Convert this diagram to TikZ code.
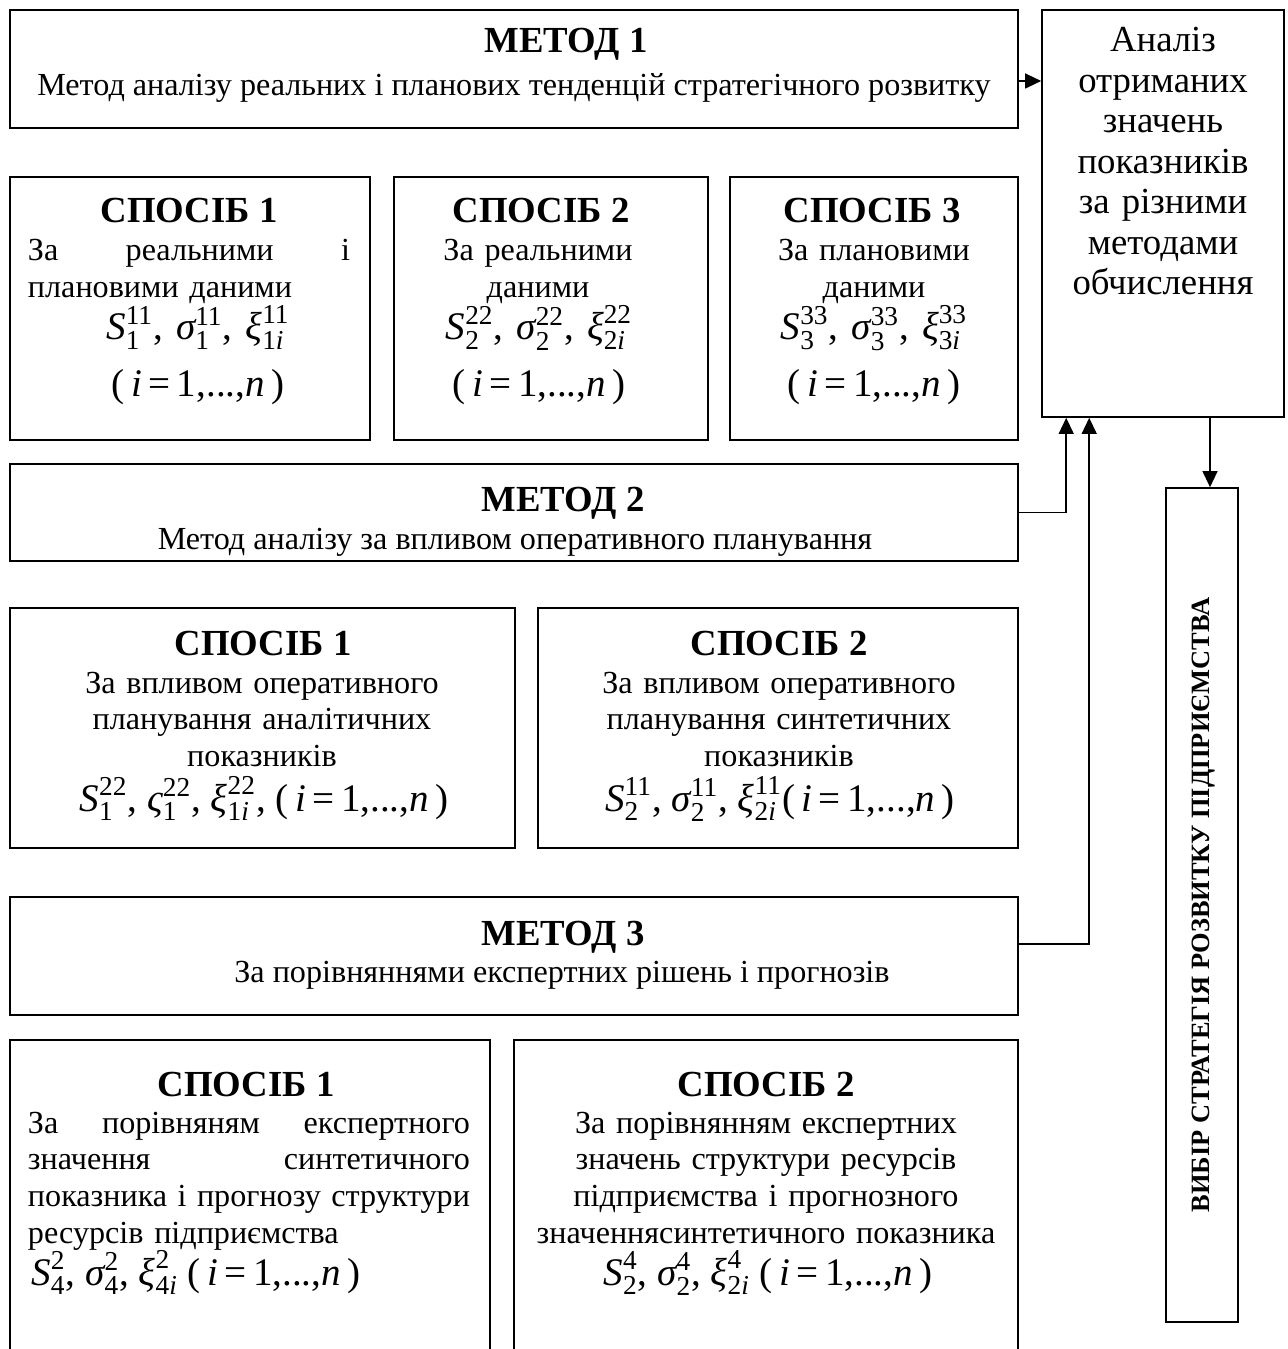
\documentclass[tikz,border=0pt]{standalone}
\usepackage{amsmath}
\usepackage{fontspec}
\setmainfont{Liberation Serif}
\usetikzlibrary{arrows.meta}

\def\pxu{0.0153cm}
\newcommand{\vr}[1]{\text{\itshape #1}}
\newcommand{\idx}[3]{$\vr{#1}_{\text{#2}}^{\text{#3}}$}
\newcommand{\rng}{(\,\textit{i}\,=\,1,...,\textit{n}\,)}

\begin{document}
\begin{tikzpicture}[
    x=\pxu,
    y=-\pxu,
    box/.style={
        draw,
        line width=0.7pt,
        inner sep=0pt
    },
    head/.style={
        anchor=base,
        inner sep=0pt,
        font=\fontsize{16}{18}\selectfont\bfseries
    },
    txt/.style={
        anchor=base,
        inner sep=0pt,
        align=center,
        font=\fontsize{14}{16}\selectfont
    },
    just/.style={
        txt,
        align=left
    },
    frm/.style={
        anchor=base,
        inner sep=0pt,
        align=center,
        font=\fontsize{17}{24.8}\selectfont
    },
    arr/.style={
        -{Triangle[length=7pt,width=6.5pt]},
        line width=0.7pt
    }
]
    \useasboundingbox (0,0) rectangle (1287,1349);
    \clip (0,0) rectangle (1287,1349);

    \node[box, minimum width=1008*\pxu, minimum height=118*\pxu] (m1) at (514,69) {};
    \node[head] (m1h) at (566,53) {МЕТОД 1};
    \node[txt] (m1t) at (514,96)
        {Метод аналізу реальних і планових тенденцій стратегічного розвитку};

    \node[box, minimum width=242*\pxu, minimum height=407*\pxu] (an) at (1163,213.5) {};
    \node[txt, font=\fontsize{16}{17.6}\selectfont, text width=236*\pxu] (ant) at (1163,52)
        {Аналіз\\ отриманих\\ значень\\ показників\\ за різними\\ методами\\ обчислення};

    \node[box, minimum width=360*\pxu, minimum height=263*\pxu] (s11) at (190,308.5) {};
    \node[head] (s11h) at (189,223) {СПОСІБ 1};
    \node[just, text width=322*\pxu] (s11t) at (189,261)
        {За\hfill реальними\hfill і\\ плановими даними};
    \node[frm, text width=330*\pxu] (s11f) at (198,340)
        {\idx{S}{1}{11}, \idx{σ}{1}{11}, \idx{ξ}{1\textit{i}}{11}\\ \rng};

    \node[box, minimum width=314*\pxu, minimum height=263*\pxu] (s12) at (551,308.5) {};
    \node[head] (s12h) at (541,223) {СПОСІБ 2};
    \node[txt, text width=290*\pxu] (s12t) at (538,261)
        {За реальними\\ даними};
    \node[frm, text width=300*\pxu] (s12f) at (539,340)
        {\idx{S}{2}{22}, \idx{σ}{2}{22}, \idx{ξ}{2\textit{i}}{22}\\ \rng};

    \node[box, minimum width=288*\pxu, minimum height=263*\pxu] (s13) at (874,308.5) {};
    \node[head] (s13h) at (872,223) {СПОСІБ 3};
    \node[txt, text width=270*\pxu] (s13t) at (874,261)
        {За плановими\\ даними};
    \node[frm, text width=280*\pxu] (s13f) at (874,340)
        {\idx{S}{3}{33}, \idx{σ}{3}{33}, \idx{ξ}{3\textit{i}}{33}\\ \rng};

    \node[box, minimum width=1008*\pxu, minimum height=97*\pxu] (m2) at (514,512.5) {};
    \node[head] (m2h) at (563,512) {МЕТОД 2};
    \node[txt] (m2t) at (515,549)
        {Метод аналізу за впливом оперативного планування};

    \node[box, minimum width=505*\pxu, minimum height=240*\pxu] (s21) at (262.5,728) {};
    \node[head] (s21h) at (263,655) {СПОСІБ 1};
    \node[txt, text width=480*\pxu] (s21t) at (262,693)
        {За впливом оперативного\\ планування аналітичних\\ показників};
    \node[frm] (s21f) at (264,811)
        {\idx{S}{1}{22}, \idx{ς}{1}{22}, \idx{ξ}{1\textit{i}}{22}, \rng};

    \node[box, minimum width=480*\pxu, minimum height=240*\pxu] (s22) at (778,728) {};
    \node[head] (s22h) at (779,655) {СПОСІБ 2};
    \node[txt, text width=460*\pxu] (s22t) at (779,693)
        {За впливом оперативного\\ планування синтетичних\\ показників};
    \node[frm] (s22f) at (780,811)
        {\idx{S}{2}{11}, \idx{σ}{2}{11}, \idx{ξ}{2\textit{i}}{11}\rng};

    \node[box, minimum width=1008*\pxu, minimum height=118*\pxu] (m3) at (514,956) {};
    \node[head] (m3h) at (563,945) {МЕТОД 3};
    \node[txt] (m3t) at (562,982)
        {За порівняннями експертних рішень і прогнозів};

    \node[box, minimum width=480*\pxu, minimum height=360*\pxu] (s31) at (250,1220) {};
    \node[head] (s31h) at (246,1096) {СПОСІБ 1};
    \node[just, text width=442*\pxu] (s31t) at (249,1133)
        {За\hfill порівняням\hfill експертного\\
         значення\hfill синтетичного\\
         показника\hfill і\hfill прогнозу\hfill структури\\
         ресурсів підприємства};
    \node[frm, anchor=base west] (s31f) at (31,1285)
        {\idx{S}{4}{2}, \idx{σ}{4}{2}, \idx{ξ}{4\textit{i}}{2} \rng};

    \node[box, minimum width=504*\pxu, minimum height=360*\pxu] (s32) at (766,1220) {};
    \node[head] (s32h) at (766,1096) {СПОСІБ 2};
    \node[txt, text width=480*\pxu] (s32t) at (766,1133)
        {За порівнянням експертних\\ значень структури ресурсів\\
         підприємства і прогнозного\\ значеннясинтетичного показника};
    \node[frm] (s32f) at (768,1285)
        {\idx{S}{2}{4}, \idx{σ}{2}{4}, \idx{ξ}{2\textit{i}}{4} \rng};

    \node[box, minimum width=72*\pxu, minimum height=834*\pxu] (st) at (1202,905) {};
    \node[rotate=90, inner sep=0pt, font=\fontsize{11.5}{14}\selectfont\bfseries] (stt) at (1204,905)
        {ВИБІР СТРАТЕГІЯ РОЗВИТКУ ПІДПРИЄМСТВА};

    \path (m1.east) ++(0,12) coordinate (m1out);
    \path (an.south west) ++(25,0) coordinate (an2);
    \path (an.south west) ++(48,0) coordinate (an3);
    \path (m3.east) ++(0,-12) coordinate (m3out);
    \path (st.north) ++(8,0) coordinate (stin);

    \draw[arr] (m1out) -- (m1out -| an.west);
    \draw[arr] (m2.east) -| (an2);
    \draw[arr] (m3out) -| (an3);
    \draw[arr] (stin |- an.south) -- (stin);
\end{tikzpicture}
\end{document}
